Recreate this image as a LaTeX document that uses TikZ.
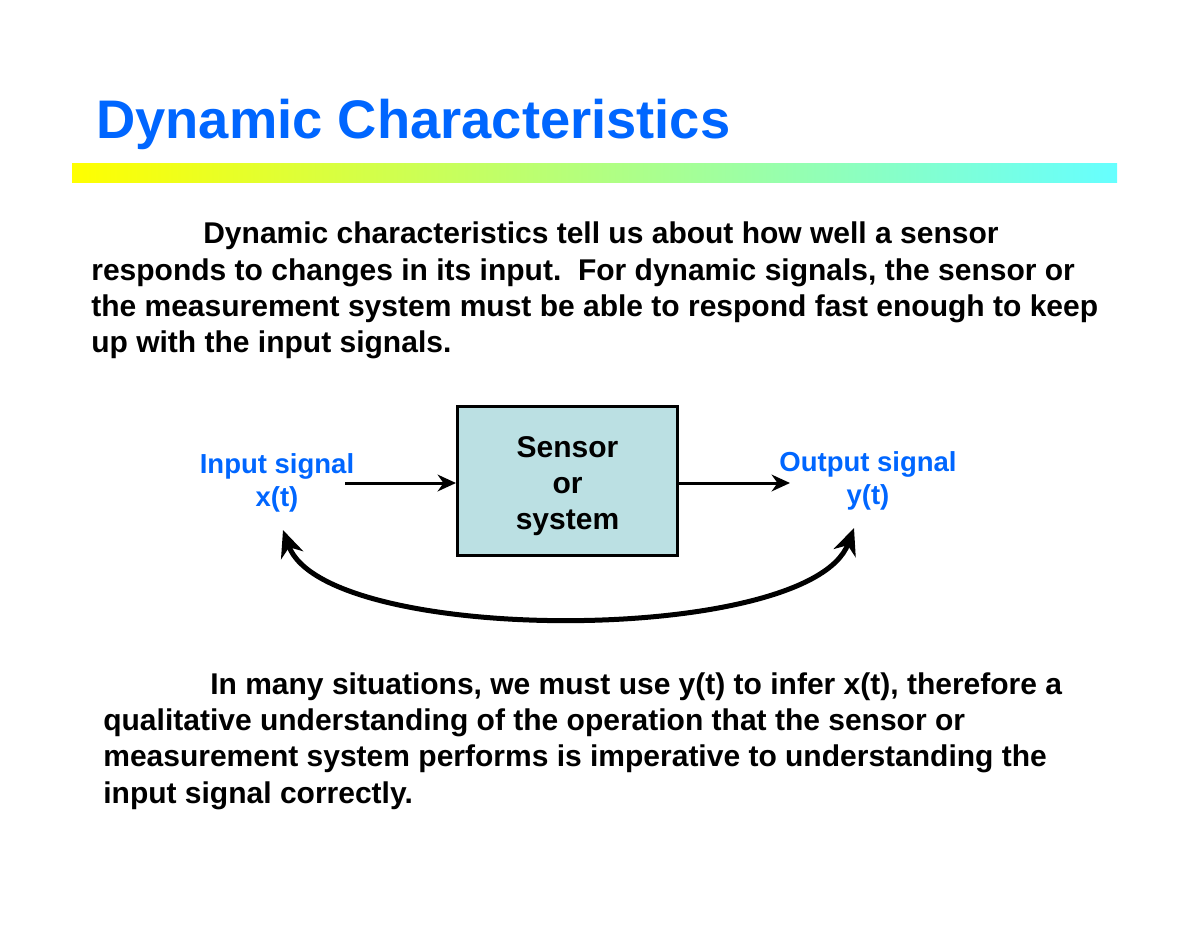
\documentclass[tikz,border=0pt]{standalone}
\usepackage{fontspec}
\setmainfont{Liberation Sans}
\usetikzlibrary{arrows.meta}
\definecolor{titleblue}{RGB}{0,102,255}
\definecolor{boxfill}{RGB}{187,224,227}
\definecolor{barleft}{RGB}{255,255,0}
\definecolor{barright}{RGB}{102,255,255}
\tikzset{
  body/.style={anchor=base west, inner sep=0pt, font=\fontsize{18}{22}\selectfont\bfseries},
  lbl/.style={align=center, inner sep=0pt, text=titleblue, font=\fontsize{16.5}{19.5}\selectfont\bfseries},
  sysbox/.style={draw=black, line width=1.8pt, fill=boxfill, minimum width=132pt, minimum height=89pt, inner sep=0pt},
  systext/.style={align=center, inner sep=0pt, font=\fontsize{18}{21.6}\selectfont\bfseries},
  sig/.style={line width=1.8pt, -{Stealth[length=11pt,width=10pt,inset=3.5pt]}},
  loop/.style={line width=3pt, {Stealth[length=16pt,width=14pt,inset=5pt]}-{Stealth[length=16pt,width=14pt,inset=5pt]}}
}
\begin{document}
\begin{tikzpicture}[x=0.6pt,y=-0.6pt]
\useasboundingbox (0,0) rectangle (1200,927);
% title
\node[anchor=base west, inner sep=0pt, text=titleblue, font=\fontsize{32.6}{38}\selectfont\bfseries] (title) at (96,138) {Dynamic Characteristics};
\shade[left color=barleft, right color=barright] (72,163) rectangle (1117,182);
% top paragraph
\node[body] (p1) at (203,243) {Dynamic characteristics tell us about how well a sensor};
\node[body] (p2) at (91,280) {responds to changes in its input.\ \ For dynamic signals, the sensor or};
\node[body] (p3) at (91,316) {the measurement system must be able to respond fast enough to keep};
\node[body] (p4) at (91,352) {up with the input signals.};
% diagram
\node[sysbox] (box) at (567.5,481) {};
\node[systext] (boxtext) at (567.5,486) {Sensor\\or\\system};
\node[lbl] (in) at (277,483) {Input signal\\x(t)};
\node[lbl] (out) at (868,481) {Output signal\\y(t)};
\coordinate (inA) at (345,483);
\coordinate (outA) at (790,483);
\draw[sig] (inA) -- (box.west |- inA);
\draw[sig] (box.east |- outA) -- (outA);
\coordinate (lt) at (283,530);
\coordinate (rt) at (854,528);
\draw[loop] (lt) .. controls (325,646) and (810,646) .. (rt);
% bottom paragraph
\node[body] (q1) at (210,694) {In many situations, we must use y(t) to infer x(t), therefore a};
\node[body] (q2) at (103,730) {qualitative understanding of the operation that the sensor or};
\node[body] (q3) at (103,766) {measurement system performs is imperative to understanding the};
\node[body] (q4) at (103,803) {input signal correctly.};
\end{tikzpicture}
\end{document}
